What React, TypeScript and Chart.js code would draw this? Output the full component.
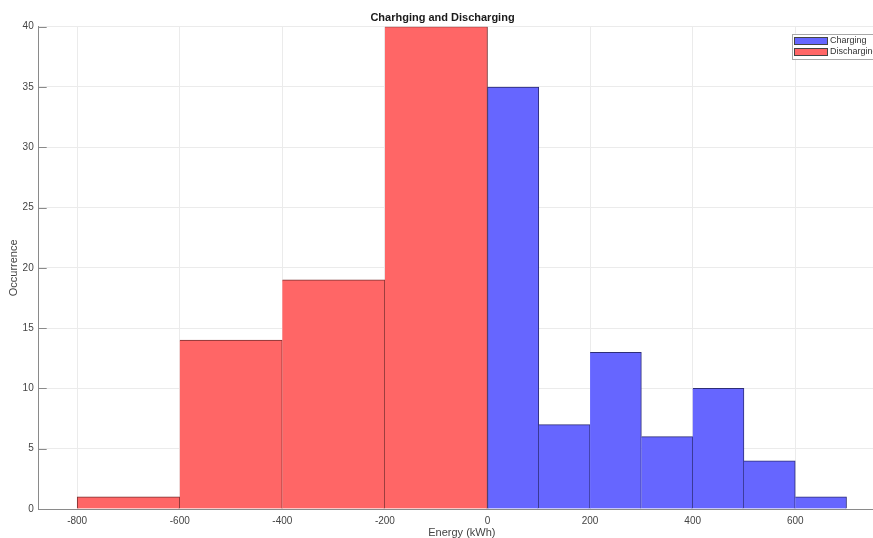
import { useEffect, useRef } from 'react';
import { Chart, registerables } from 'chart.js';

Chart.register(...registerables);

// ---- data ----
const chargingBinStarts = [0, 100, 200, 300, 400, 500, 600];
const chargingCounts = [35, 7, 13, 6, 10, 4, 1];
const chargingBinWidth = 100;

const dischargingBinStarts = [-800, -600, -400, -200];
const dischargingCounts = [1, 14, 19, 40];
const dischargingBinWidth = 200;

const xTicks = [-800, -600, -400, -200, 0, 200, 400, 600];
const yTicks = [0, 5, 10, 15, 20, 25, 30, 35, 40];
const xMin = -875;
const xMax = 775;
const yMin = 0;
const yMax = 40;

const FONT = "'Liberation Sans', Arial, Helvetica, sans-serif";

const innerTicksPlugin = {
  id: 'innerTicks',
  afterDraw(chart: any) {
    const { ctx, chartArea } = chart;
    const y = chart.scales.y;
    ctx.save();
    ctx.strokeStyle = '#8a8a8a';
    ctx.lineWidth = 1;
    y.ticks.forEach((t: any) => {
      const py = Math.round(y.getPixelForValue(t.value)) + 0.5;
      ctx.beginPath();
      ctx.moveTo(chartArea.left, py);
      ctx.lineTo(chartArea.left + 8, py);
      ctx.stroke();
    });
    ctx.restore();
  },
};

const boxLegendPlugin = {
  id: 'boxLegend',
  afterDraw(chart: any) {
    const { ctx, chartArea } = chart;
    const x0 = chartArea.right - 93.5;
    const y0 = chartArea.top + 7;
    const w = 88;
    const h = 25;
    ctx.save();
    ctx.fillStyle = '#ffffff';
    ctx.fillRect(x0, y0, w, h);
    ctx.strokeStyle = '#a8a8a8';
    ctx.lineWidth = 1;
    ctx.strokeRect(Math.round(x0) + 0.5, Math.round(y0) + 0.5, w, h);
    ctx.font = `9px ${FONT}`;
    ctx.textBaseline = 'middle';
    ctx.textAlign = 'left';
    chart.data.datasets.forEach((ds: any, i: number) => {
      const sy = Math.round(y0 + 3 + i * 11);
      ctx.fillStyle = ds.backgroundColor;
      ctx.fillRect(Math.round(x0) + 2, sy, 34, 8);
      ctx.strokeStyle = '#444';
      ctx.strokeRect(Math.round(x0) + 2.5, sy + 0.5, 33, 7);
      ctx.fillStyle = '#333';
      ctx.fillText(ds.label, x0 + 38.5, sy + 4);
    });
    ctx.restore();
  },
};

export default function App() {
  const ref = useRef<HTMLCanvasElement | null>(null);

  useEffect(() => {
    if (!ref.current) return;
    const barBorder = (c: any) => ({ top: 1, right: 1, bottom: 0, left: c.dataIndex === 0 ? 1 : 0 });
    const chart = new Chart(ref.current, {
      type: 'bar',
      data: {
        datasets: [
          {
            label: 'Charging',
            xAxisID: 'x2',
            data: chargingBinStarts.map((s, i) => ({ x: s + chargingBinWidth / 2, y: chargingCounts[i] })),
            backgroundColor: '#6666ff',
            borderColor: '#2e2e78',
            borderWidth: barBorder,
            borderSkipped: false,
            barPercentage: 1,
            categoryPercentage: 1,
            grouped: false,
          },
          {
            label: 'Discharging',
            xAxisID: 'x',
            data: dischargingBinStarts.map((s, i) => ({ x: s + dischargingBinWidth / 2, y: dischargingCounts[i] })),
            backgroundColor: '#ff6666',
            borderColor: '#7a3030',
            borderWidth: barBorder,
            borderSkipped: false,
            barPercentage: 1,
            categoryPercentage: 1,
            grouped: false,
          },
        ] as any,
      },
      options: {
        animation: false,
        responsive: true,
        maintainAspectRatio: false,
        layout: { padding: { left: 0, right: 39, top: 0, bottom: 0 } },
        plugins: {
          legend: { display: false },
          tooltip: { enabled: false },
          title: {
            display: true,
            text: 'Charhging and Discharging',
            color: '#1a1a1a',
            font: { family: FONT, size: 11, weight: 'bold' },
            padding: { top: 11.5, bottom: 2 },
          },
        },
        scales: {
          x: {
            type: 'linear',
            position: 'bottom',
            min: xMin,
            max: xMax,
            offset: false,
            afterBuildTicks: (s: any) => {
              s.ticks = xTicks.map((v) => ({ value: v }));
            },
            afterFit: (s: any) => {
              s.height = 29;
            },
            grid: { color: '#ebebeb', drawTicks: false, offset: false },
            border: { display: true, color: '#8a8a8a' },
            ticks: { color: '#444', font: { family: FONT, size: 10 }, padding: 6, maxRotation: 0, autoSkip: false },
            title: {
              display: true,
              text: 'Energy (kWh)',
              color: '#444',
              font: { family: FONT, size: 11 },
              padding: { top: 0, bottom: -1.5 },
            },
          },
          x2: {
            type: 'linear',
            axis: 'x',
            position: 'bottom',
            display: false,
            min: xMin,
            max: xMax,
            offset: false,
            afterBuildTicks: (s: any) => {
              s.ticks = xTicks.map((v) => ({ value: v }));
            },
            grid: { offset: false },
          },
          y: {
            type: 'linear',
            min: yMin,
            max: yMax,
            afterBuildTicks: (s: any) => {
              s.ticks = yTicks.map((v) => ({ value: v }));
            },
            afterFit: (s: any) => {
              s.width = 38.7;
            },
            grid: { color: '#ebebeb', drawTicks: false },
            border: { display: true, color: '#8a8a8a' },
            ticks: { color: '#444', font: { family: FONT, size: 10 }, padding: 5 },
            title: {
              display: true,
              text: 'Occurrence',
              color: '#444',
              font: { family: FONT, size: 11 },
              padding: { top: 7, bottom: 0 },
            },
          },
        } as any,
      },
      plugins: [innerTicksPlugin, boxLegendPlugin],
    });
    return () => chart.destroy();
  }, []);

  return (
    <div style={{ position: 'fixed', left: 0, top: 0, width: 873, height: 538, overflow: 'hidden', background: '#fff' }}>
      <div style={{ position: 'relative', width: 924, height: 538 }}>
        <canvas ref={ref} />
      </div>
    </div>
  );
}
